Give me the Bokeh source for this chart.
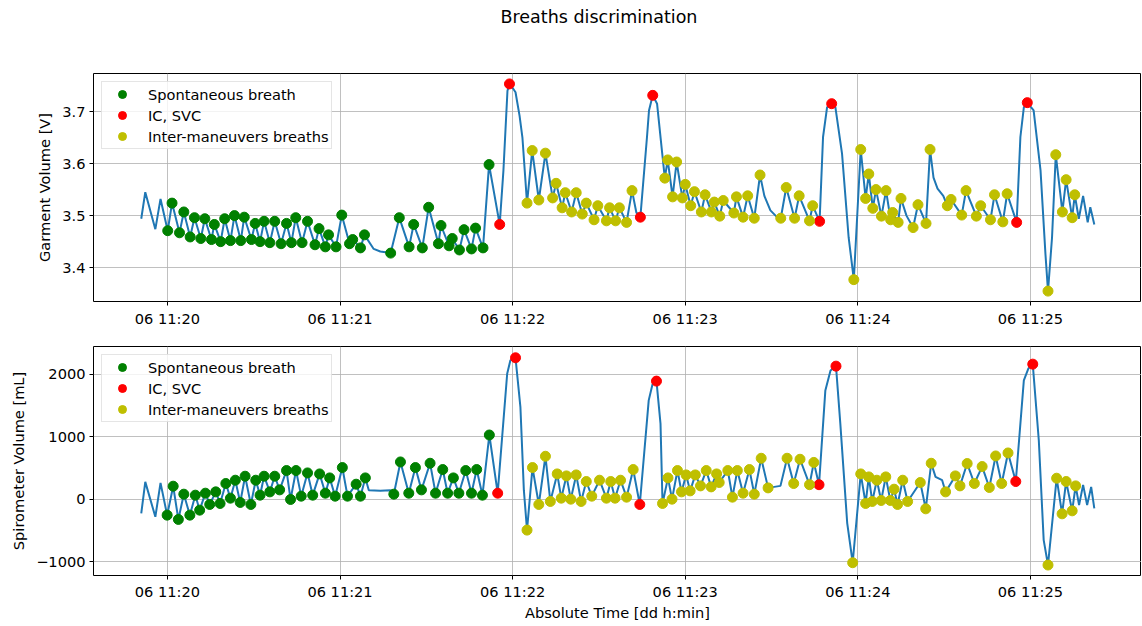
from datetime import datetime
from bokeh.plotting import figure
from bokeh.models import (Range1d, FixedTicker, DatetimeTickFormatter, PrintfTickFormatter,
                          CustomJSTickFormatter, Title, Legend, LegendItem)
from bokeh.layouts import column
from bokeh.embed import file_html
from bokeh.resources import INLINE

# ---------------- data (seconds after 06 11:20:00) ----------------
# Garment volume [V]
top_spont_t = [0.1, 1.6, 4.2, 5.7, 7.9, 9.4, 11.6, 13.0, 15.3, 16.3, 18.5, 19.9, 21.9, 23.3, 25.5, 26.7,
               29.2, 30.5, 32.2, 33.6, 35.6, 37.3, 39.5, 41.4, 43.1, 44.6, 46.8, 48.7, 51.3, 52.7, 54.9, 56.0,
               58.6, 60.6, 63.3, 64.4, 67.1, 68.5, 77.6, 80.6, 84.0, 85.6, 88.6, 90.8, 94.2, 95.1, 97.9, 99.0,
               101.5, 103.1, 105.7, 107.1, 109.7, 111.8]
top_spont_v = [3.471, 3.524, 3.467, 3.507, 3.459, 3.496, 3.456, 3.494, 3.454, 3.483, 3.450, 3.494, 3.452, 3.500,
               3.452, 3.497, 3.454, 3.485, 3.450, 3.489, 3.448, 3.489, 3.446, 3.485, 3.448, 3.496, 3.448, 3.489,
               3.444, 3.475, 3.440, 3.463, 3.440, 3.501, 3.446, 3.454, 3.438, 3.463, 3.428, 3.496, 3.440, 3.483,
               3.438, 3.516, 3.446, 3.481, 3.442, 3.456, 3.434, 3.473, 3.436, 3.476, 3.438, 3.598]
top_icsvc_t = [115.5, 118.9, 164.4, 168.7, 226.7, 230.9, 295.2, 298.9]
top_icsvc_v = [3.483, 3.753, 3.497, 3.731, 3.489, 3.715, 3.487, 3.717]
top_inter_t = [125.0, 126.8, 129.1, 131.4, 133.9, 135.1, 137.2, 138.3, 140.5, 142.1, 144.2, 145.6, 148.3, 149.6,
               152.6, 153.7, 155.8, 157.1, 159.6, 161.5,
               172.9, 173.9, 175.6, 177.0, 179.0, 180.0, 181.9, 183.2, 185.6, 186.9, 189.1, 190.1, 192.0, 193.2,
               196.9, 197.8, 200.1, 201.7, 204.0, 206.0, 213.2, 215.1, 218.0, 219.6, 223.2, 224.3,
               238.6, 241.0, 242.7, 243.8, 245.2, 246.3, 248.2, 249.8, 251.4, 252.1, 254.0, 255.0, 259.2, 260.9,
               263.7, 265.1, 271.1, 272.4, 276.1, 277.6, 281.2, 282.7, 286.1, 287.5, 290.4, 291.9,
               306.1, 308.8, 311.1, 312.4, 314.5, 315.4]
top_inter_v = [3.524, 3.625, 3.530, 3.620, 3.534, 3.562, 3.515, 3.544, 3.507, 3.544, 3.503, 3.524, 3.492, 3.519,
               3.490, 3.515, 3.490, 3.515, 3.487, 3.548,
               3.572, 3.607, 3.536, 3.603, 3.534, 3.560, 3.519, 3.546, 3.507, 3.540, 3.507, 3.526, 3.499, 3.529,
               3.505, 3.536, 3.497, 3.538, 3.495, 3.578, 3.495, 3.554, 3.495, 3.538, 3.490, 3.519,
               3.377, 3.627, 3.533, 3.580, 3.514, 3.550, 3.499, 3.548, 3.492, 3.506, 3.487, 3.533, 3.477, 3.521,
               3.485, 3.627, 3.519, 3.531, 3.501, 3.548, 3.499, 3.519, 3.492, 3.540, 3.488, 3.542,
               3.355, 3.617, 3.507, 3.569, 3.496, 3.540]
top_other_t = [-9.1, -7.7, -4.2, -2.4, 71.7, 74.0, 116.8, 118.2, 119.9, 121.0, 122.4, 123.4, 163.0, 166.7,
               167.4, 170.2, 172.0, 207.5, 209.6, 211.9, 227.9, 229.3, 232.2, 234.5, 236.8, 256.9, 266.3, 267.7,
               269.7, 296.5, 297.7, 301.1, 303.5, 305.2, 307.5, 316.8, 318.3, 319.9, 320.8, 322.2]
top_other_v = [3.494, 3.545, 3.474, 3.532, 3.436, 3.431, 3.587, 3.740, 3.746, 3.737, 3.692, 3.650, 3.506, 3.651,
               3.702, 3.715, 3.619, 3.538, 3.510, 3.497, 3.651, 3.708, 3.708, 3.619, 3.458, 3.500, 3.573, 3.552,
               3.538, 3.651, 3.708, 3.702, 3.587, 3.427, 3.458, 3.494, 3.538, 3.487, 3.516, 3.483]

# Spirometer volume [mL]
bot_spont_t = [-0.1, 2.0, 3.8, 5.7, 7.8, 9.7, 11.2, 13.2, 14.7, 16.8, 18.3, 20.3, 21.9, 23.6, 25.3, 27.0,
               29.0, 30.7, 32.2, 33.6, 35.6, 37.3, 39.0, 41.4, 42.8, 44.7, 46.5, 48.7, 50.5, 52.9, 54.9, 56.4,
               58.3, 60.8, 62.6, 65.6, 67.1, 68.8, 78.7, 81.0, 83.9, 86.2, 88.3, 91.3, 93.2, 95.7, 97.4, 99.4,
               101.3, 103.7, 105.7, 107.5, 109.5, 111.9]
bot_spont_v = [-256, 208, -325, 80, -256, 64, -176, 96, -85, 117, -69, 251, 16, 304, -53, 368,
               -85, 304, 64, 368, 117, 368, 149, 459, -5, 459, 48, 421, 64, 405, 96, 341,
               48, 507, 48, 240, 48, 341, 80, 597, 96, 507, 149, 576, 96, 475, 96, 341,
               96, 459, 96, 475, 64, 1029]
bot_icsvc_t = [114.8, 121.0, 164.2, 170.0, 226.5, 232.4, 294.9, 300.8]
bot_icsvc_v = [96, 2267, -85, 1893, 232, 2133, 283, 2165]
bot_inter_t = [125.0, 126.9, 129.1, 131.4, 133.1, 135.5, 136.9, 138.7, 140.2, 142.1, 143.8, 145.6, 147.5, 150.2,
               152.6, 154.1, 155.6, 157.5, 159.6, 161.9,
               172.1, 174.0, 175.4, 177.3, 178.7, 180.3, 181.7, 183.5, 185.3, 187.3, 189.0, 190.9, 191.8, 194.8,
               196.4, 198.1, 200.1, 202.3, 204.0, 206.4, 208.8, 215.4, 217.7, 219.9, 223.2, 224.7,
               238.2, 241.0, 242.7, 243.8, 245.0, 246.6, 248.1, 249.7, 251.3, 252.6, 253.8, 255.6, 257.3, 261.7,
               263.6, 265.5, 270.5, 273.9, 275.5, 278.0, 280.5, 283.2, 285.7, 287.9, 290.0, 292.2,
               306.1, 309.1, 311.0, 312.4, 314.5, 315.7]
bot_inter_v = [-496, 507, -85, 688, -37, 405, 16, 373, 0, 389, -37, 283, 48, 304, 16, 283, 16, 304, 32, 475,
               -69, 341, 0, 459, 117, 389, 133, 389, 213, 459, 197, 405, 267, 459, 32, 459, 96, 475, 80, 656,
               181, 656, 251, 640, 232, 589,
               -1019, 405, -69, 357, -37, 304, -21, 357, -21, 160, -85, 304, -37, 267, -155, 576, 117, 373,
               213, 571, 251, 523, 187, 693, 251, 741,
               -1056, 336, -235, 283, -187, 213]
bot_other_t = [-9.1, -7.7, -4.2, -2.4, 70.0, 74.0, 77.5, 118.1, 119.2, 122.7, 123.9, 167.3, 168.6, 171.4,
               213.1, 228.7, 230.5, 233.9, 236.3, 267.0, 269.3, 297.7, 299.3, 302.9, 304.6, 316.9, 318.3,
               319.7, 321.1, 322.2]
bot_other_v = [-229, 277, -283, 261, 144, 136, 144, 2011, 2224, 1477, 144, 1584, 1840, 1211,
               213, 1744, 2064, 1216, -384, 357, 304, 1904, 2096, 944, -656, -96, 229, -96, 197, -149]

x_tick_minutes = [20, 21, 22, 23, 24, 25]
top_yticks = [3.4, 3.5, 3.6, 3.7]
bot_yticks = [-1000, 0, 1000, 2000]
legend_labels = ["Spontaneous breath", "IC, SVC", "Inter-maneuvers breaths"]

# ---------------- helpers ----------------
EPOCH = datetime(1970, 1, 1)
BASE_MS = (datetime(2023, 3, 6, 11, 20, 0) - EPOCH).total_seconds() * 1000.0


def ms(seconds):
    return [BASE_MS + s * 1000.0 for s in seconds]


X0 = BASE_MS - 25.7 * 1000
X1 = BASE_MS + 338.6 * 1000
FONT = "DejaVu Sans"
FS = "14.6px"
FW = 1048
LEFT = 93


def style(p, yticks, yfmt, ylabel):
    p.xaxis.ticker = FixedTicker(ticks=[BASE_MS + (m - 20) * 60000 for m in x_tick_minutes])
    fmt = "%d %H:%M"
    p.xaxis.formatter = DatetimeTickFormatter(
        milliseconds=fmt, seconds=fmt, minsec=fmt, minutes=fmt, hourmin=fmt, hours=fmt,
        days=fmt, months=fmt, years=fmt)
    p.yaxis.ticker = FixedTicker(ticks=yticks)
    p.yaxis.formatter = yfmt
    p.yaxis.axis_label = ylabel
    for ax in (p.xaxis[0], p.yaxis[0]):
        ax.axis_line_color = None
        ax.major_tick_out = 4
        ax.major_tick_in = 0
        ax.minor_tick_out = 0
        ax.minor_tick_in = 0
        ax.major_tick_line_color = "black"
        ax.major_label_text_font = FONT
        ax.major_label_text_font_size = FS
        ax.major_label_text_color = "black"
        ax.major_label_standoff = 4
        ax.axis_label_text_font = FONT
        ax.axis_label_text_font_size = FS
        ax.axis_label_text_font_style = "normal"
        ax.axis_label_text_color = "black"
        ax.axis_label_standoff = 6
    for g in (p.xgrid[0], p.ygrid[0]):
        g.grid_line_color = "#b0b0b0"
        g.grid_line_width = 0.8
    p.outline_line_color = "black"
    p.outline_line_width = 1
    p.outline_line_alpha = 1
    p.background_fill_color = "white"
    p.border_fill_color = "white"


def draw(p, spont_t, spont_v, ic_t, ic_v, inter_t, inter_v, other_t, other_v):
    pts = sorted(zip(spont_t + ic_t + inter_t + other_t, spont_v + ic_v + inter_v + other_v))
    p.line(ms([a for a, _ in pts]), [b for _, b in pts], line_color="#1f77b4", line_width=2)
    r1 = p.scatter(ms(spont_t), spont_v, size=10, color="green")
    r2 = p.scatter(ms(ic_t), ic_v, size=10, color="red")
    r3 = p.scatter(ms(inter_t), inter_v, size=10, color="#bfbf00")
    leg = Legend(items=[LegendItem(label=legend_labels[0], renderers=[r1]),
                        LegendItem(label=legend_labels[1], renderers=[r2]),
                        LegendItem(label=legend_labels[2], renderers=[r3])],
                 location="top_left")
    leg.margin = 8
    leg.padding = 2
    leg.spacing = 1
    leg.glyph_width = 36
    leg.glyph_height = 20
    leg.label_height = 20
    leg.label_standoff = 8
    leg.label_text_font = FONT
    leg.label_text_font_size = FS
    leg.label_text_color = "black"
    leg.border_line_color = "#cccccc"
    leg.background_fill_alpha = 0.8
    p.add_layout(leg)


xr = Range1d(X0, X1)

top = figure(x_axis_type="datetime", x_range=xr, y_range=Range1d(3.335, 3.773),
             frame_width=FW, frame_height=228, min_border_left=LEFT, min_border_right=0,
             min_border_top=73, min_border_bottom=40, output_backend="svg", toolbar_location=None)
# spacer (closest to the frame), then the real title above it
top.add_layout(Title(text=" ", standoff=41, text_font=FONT, text_font_size="2px"), "above")
top.add_layout(Title(text="Breaths discrimination", align="left", offset=407, standoff=4,
                     text_font=FONT, text_font_size="17.5px", text_font_style="normal",
                     text_color="black"), "above")
style(top, top_yticks, PrintfTickFormatter(format="%.1f"), "Garment Volume [V]")
draw(top, top_spont_t, top_spont_v, top_icsvc_t, top_icsvc_v, top_inter_t, top_inter_v,
     top_other_t, top_other_v)

bot = figure(x_axis_type="datetime", x_range=xr, y_range=Range1d(-1224, 2448),
             frame_width=FW, frame_height=229, min_border_left=LEFT, min_border_right=0,
             min_border_top=5, min_border_bottom=40, output_backend="svg", toolbar_location=None)
style(bot, bot_yticks,
      CustomJSTickFormatter(code="return (tick < 0 ? '\u2212' : '') + Math.abs(tick).toFixed(0);"),
      "Spirometer Volume [mL]")
bot.xaxis.axis_label = "Absolute Time [dd h:min]"
bot.xaxis.axis_label_standoff = 1
bot.xaxis.major_label_standoff = 3
draw(bot, bot_spont_t, bot_spont_v, bot_icsvc_t, bot_icsvc_v, bot_inter_t, bot_inter_v,
     bot_other_t, bot_other_v)

layout = column(top, bot, spacing=0)
open("out.html", "w").write(file_html(layout, INLINE))
